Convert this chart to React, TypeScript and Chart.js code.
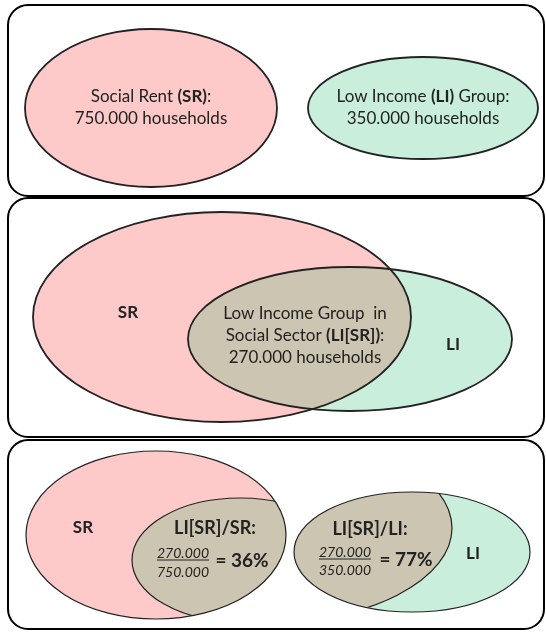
import React, { useEffect, useRef } from "react";
import { Chart, registerables } from "chart.js";

Chart.register(...registerables);

// ---------- data ----------
const categories = ["Social Rent", "Low Income", "Social Sector"];
const abbreviations = ["SR", "LI", "LI[SR]"];
const households = [750000, 350000, 270000];
const shareLabels = ["LI[SR]/SR:", "LI[SR]/LI:"];
const sharePercent = [36, 77];
const overlapTitle = ["Low Income Group  in", "Social Sector"];

// ---------- layout (value space = 546 x 632) ----------
const W = 546;
const H = 632;
const PANELS = [
  { x0: 8, y0: 5, x1: 544, y1: 196 },
  { x0: 8, y0: 198, x1: 544, y1: 437 },
  { x0: 8, y0: 440, x1: 544, y1: 629 },
];
const E = {
  p1SR: { cx: 151, cy: 108, rx: 126, ry: 79 },
  p1LI: { cx: 423, cy: 108, rx: 115, ry: 51 },
  p2SR: { cx: 222, cy: 317, rx: 189, ry: 105 },
  p2LI: { cx: 350, cy: 339, rx: 162, ry: 72 },
  p3SR: { cx: 156, cy: 535, rx: 130, ry: 84 },
  p3SRin: { cx: 240, cy: 560, rx: 108, ry: 62 },
  p3LI: { cx: 412, cy: 552, rx: 118, ry: 60 },
  p3LIin: { cx: 265, cy: 528, rx: 187, ry: 95 },
};

const PINK = "#fdc9c9";
const GREEN = "#c9eedb";
const TAN = "#ccc5b1";
const INK = "#222222";
const FONT = "Lato, 'Open Sans', sans-serif";

const fmt = (n: number) => String(n).replace(/\B(?=(\d{3})+(?!\d))/g, ".");

type Run = { t: string; bold?: boolean; italic?: boolean; size?: number };

const vennPlugin = {
  id: "venn",
  afterDatasetsDraw(chart: any) {
    const ctx: CanvasRenderingContext2D = chart.ctx;
    const xs = chart.scales.x;
    const ys = chart.scales.y;
    const px = (v: number) => xs.getPixelForValue(v);
    const py = (v: number) => ys.getPixelForValue(v);

    const ellipsePath = (e: any) => {
      const cx = px(e.cx);
      const cy = py(e.cy);
      const rx = Math.abs(px(e.cx + e.rx) - cx);
      const ry = Math.abs(py(e.cy + e.ry) - cy);
      ctx.beginPath();
      ctx.ellipse(cx, cy, rx, ry, 0, 0, Math.PI * 2);
    };
    const fillE = (e: any, c: string) => {
      ellipsePath(e);
      ctx.fillStyle = c;
      ctx.fill();
    };
    const strokeE = (e: any, w: number, c = INK) => {
      ellipsePath(e);
      ctx.lineWidth = w;
      ctx.strokeStyle = c;
      ctx.stroke();
    };
    const fillClip = (clip: any, e: any, c: string) => {
      ctx.save();
      ellipsePath(clip);
      ctx.clip();
      fillE(e, c);
      ctx.restore();
    };
    const strokeClip = (clip: any, e: any, w: number) => {
      ctx.save();
      ellipsePath(clip);
      ctx.clip();
      strokeE(e, w);
      ctx.restore();
    };
    const font = (r: Run, base: number) =>
      `${r.italic ? "italic " : ""}${r.bold ? "bold " : ""}${r.size || base}px ${FONT}`;
    const runs = (rs: Run[], x: number, y: number, base = 17, underline = false) => {
      ctx.textBaseline = "middle";
      ctx.textAlign = "left";
      let total = 0;
      const widths = rs.map((r) => {
        ctx.font = font(r, base);
        const w = ctx.measureText(r.t).width;
        total += w;
        return w;
      });
      let cx = px(x) - total / 2;
      const cy = py(y);
      ctx.fillStyle = INK;
      rs.forEach((r, i) => {
        ctx.font = font(r, base);
        ctx.fillText(r.t, cx, cy);
        cx += widths[i];
      });
      if (underline) {
        ctx.beginPath();
        ctx.moveTo(px(x) - total / 2, cy + (rs[0].size || base) * 0.5);
        ctx.lineTo(px(x) + total / 2, cy + (rs[0].size || base) * 0.5);
        ctx.lineWidth = 1;
        ctx.strokeStyle = INK;
        ctx.stroke();
      }
    };

    ctx.save();
    // panels
    PANELS.forEach((p) => {
      ctx.beginPath();
      ctx.roundRect(px(p.x0), py(p.y0), px(p.x1) - px(p.x0), py(p.y1) - py(p.y0), 20);
      ctx.lineWidth = 2;
      ctx.strokeStyle = "#000";
      ctx.stroke();
    });

    // panel 1
    fillE(E.p1SR, PINK);
    strokeE(E.p1SR, 1.8);
    fillE(E.p1LI, GREEN);
    strokeE(E.p1LI, 1.8);
    runs([{ t: categories[0] + " " }, { t: "(" + abbreviations[0] + ")", bold: true }, { t: ":" }], 151, 97);
    runs([{ t: fmt(households[0]) + " households" }], 151, 119);
    runs([{ t: categories[1] + " " }, { t: "(" + abbreviations[1] + ")", bold: true }, { t: " Group:" }], 423, 97);
    runs([{ t: fmt(households[1]) + " households" }], 423, 119);

    // panel 2
    fillE(E.p2SR, PINK);
    fillE(E.p2LI, GREEN);
    fillClip(E.p2SR, E.p2LI, TAN);
    strokeE(E.p2SR, 1.8);
    strokeE(E.p2LI, 1.8);
    runs([{ t: abbreviations[0], bold: true }], 128, 313);
    runs([{ t: abbreviations[1], bold: true }], 453, 345);
    runs([{ t: overlapTitle[0] }], 305, 314);
    runs([{ t: overlapTitle[1] + " " }, { t: "(" + abbreviations[2] + ")", bold: true }, { t: ":" }], 305, 336);
    runs([{ t: fmt(households[2]) + " households" }], 305, 358);

    // panel 3 left
    fillE(E.p3SR, PINK);
    fillClip(E.p3SR, E.p3SRin, TAN);
    strokeE(E.p3SR, 1.2);
    strokeClip(E.p3SR, E.p3SRin, 1.2);
    runs([{ t: abbreviations[0], bold: true }], 83, 528);
    runs([{ t: shareLabels[0], bold: true, size: 18 }], 215, 528);
    runs([{ t: fmt(households[2]), italic: true, size: 14 }], 183, 553, 14, true);
    runs([{ t: fmt(households[0]), italic: true, size: 14 }], 183, 572, 14);
    runs([{ t: "= " + sharePercent[0] + "%", bold: true, size: 19 }], 242, 561);

    // panel 3 right
    fillE(E.p3LI, GREEN);
    fillClip(E.p3LI, E.p3LIin, TAN);
    strokeE(E.p3LI, 1.2);
    strokeClip(E.p3LI, E.p3LIin, 1.2);
    runs([{ t: shareLabels[1], bold: true, size: 18 }], 370, 529);
    runs([{ t: fmt(households[2]), italic: true, size: 14 }], 345, 552, 14, true);
    runs([{ t: fmt(households[1]), italic: true, size: 14 }], 345, 570, 14);
    runs([{ t: "= " + sharePercent[1] + "%", bold: true, size: 19 }], 406, 560);
    runs([{ t: abbreviations[1], bold: true }], 473, 554);

    ctx.restore();
  },
};

export default function App() {
  const ref = useRef<HTMLCanvasElement | null>(null);
  useEffect(() => {
    if (!ref.current) return;
    const anchors = Object.values(E).map((e) => ({ x: e.cx, y: e.cy }));
    const chart = new Chart(ref.current, {
      type: "scatter",
      data: { datasets: [{ data: anchors, pointRadius: 0, showLine: false }] },
      options: {
        animation: false,
        responsive: false,
        maintainAspectRatio: false,
        events: [],
        layout: { padding: 0 },
        plugins: { legend: { display: false }, tooltip: { enabled: false } },
        scales: {
          x: { type: "linear", min: 0, max: W, display: false },
          y: { type: "linear", min: 0, max: H, reverse: true, display: false },
        },
      },
      plugins: [vennPlugin],
    } as any);
    return () => chart.destroy();
  }, []);
  return (
    <div style={{ position: "absolute", left: 0, top: 0, width: W, height: H, background: "#fff" }}>
      <canvas ref={ref} width={W} height={H} style={{ display: "block", width: W, height: H }} />
    </div>
  );
}
